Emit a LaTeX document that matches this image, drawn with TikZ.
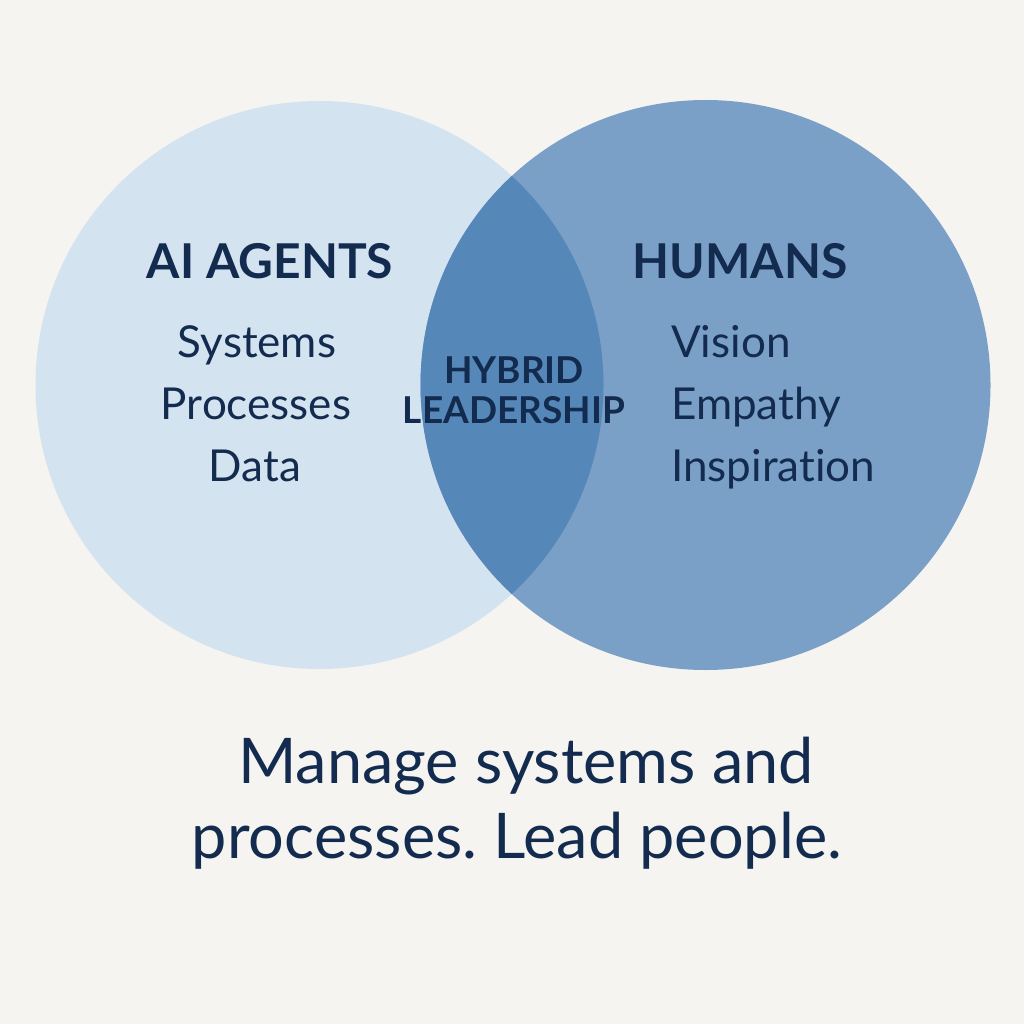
\documentclass[tikz,border=0pt]{standalone}
\usepackage{fontspec}
\setmainfont{Lato}[Ligatures=NoCommon]
\frenchspacing
\definecolor{bg}{HTML}{F5F4F1}
\definecolor{lightc}{HTML}{D4E3F0}
\definecolor{darkc}{HTML}{7BA0C7}
\definecolor{lensc}{HTML}{5588B8}
\definecolor{ink}{HTML}{132B4E}
\tikzset{
  head/.style={font=\fontsize{48}{52}\selectfont\bfseries, text=ink, anchor=base, inner sep=0pt},
  item/.style={font=\fontsize{44}{48}\selectfont, text=ink, anchor=base, inner sep=0pt},
  itemw/.style={item, anchor=base west},
  mid/.style={font=\fontsize{37}{40}\selectfont\bfseries, text=ink, anchor=base, inner sep=0pt},
  tag/.style={font=\fontsize{63}{67}\selectfont, text=ink, anchor=base, inner sep=0pt}
}
\begin{document}
\begin{tikzpicture}[x=1pt,y=-1pt]
\fill[bg] (0,0) rectangle (1024,1024);
\useasboundingbox (0,0) rectangle (1024,1024);
\fill[lightc] (319.5,385) circle[radius=284];
\fill[darkc] (705.5,385) circle[radius=285];
\begin{scope}
  \clip (319.5,385) circle[radius=284];
  \fill[lensc] (705.5,385) circle[radius=285];
\end{scope}
\node[head] (ai) at (270,278) {AI AGENTS};
\node[item] (sys) at (257,357) {Systems};
\node[item] (proc) at (256,419) {Processes};
\node[item] (data) at (255,481) {Data};
\node[head] (hum) at (740,278) {HUMANS};
\node[itemw] (vis) at (671,357) {Vision};
\node[itemw] (emp) at (671,419) {Empathy};
\node[itemw] (insp) at (671,481) {Inspiration};
\node[mid] (hyb) at (514,383) {HYBRID};
\node[mid] (lead) at (514,423) {LEADERSHIP};
\node[tag] (t1) at (526,783) {Manage systems and};
\node[tag] (t2) at (517,858) {processes. Lead people.};
\end{tikzpicture}
\end{document}
